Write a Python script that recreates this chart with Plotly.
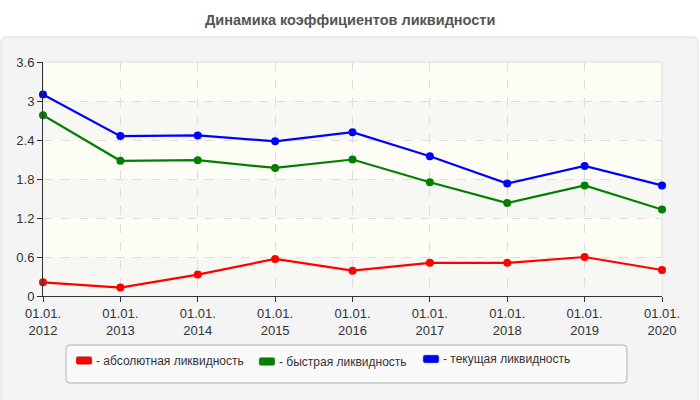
import plotly.graph_objects as go

# ---- data ----
dates = ["01.01.2012", "01.01.2013", "01.01.2014", "01.01.2015", "01.01.2016",
         "01.01.2017", "01.01.2018", "01.01.2019", "01.01.2020"]
absolute = [0.21, 0.13, 0.33, 0.57, 0.39, 0.51, 0.51, 0.60, 0.40]
quick = [2.78, 2.08, 2.09, 1.97, 2.10, 1.75, 1.43, 1.70, 1.33]
current = [3.10, 2.46, 2.47, 2.38, 2.52, 2.15, 1.73, 2.00, 1.70]
series_names = ["абсолютная ликвидность", "быстрая ликвидность", "текущая ликвидность"]
series_colors = ["#ff0000", "#008000", "#0000ff"]
y_ticks = [0, 0.6, 1.2, 1.8, 2.4, 3.0, 3.6]
title = "Динамика коэффициентов ликвидности"

W, H = 700, 400
L, R, T, B = 43, 38, 62, 104
PW, PH = W - L - R, H - T - B

def px(x):
    return (x - L) / PW

def py(y):
    return (H - B - y) / PH

tick_text = [d[:6] + "<br>" + d[6:] for d in dates]
xs = list(range(len(dates)))

fig = go.Figure()
for vals, name, col in zip([absolute, quick, current], series_names, series_colors):
    fig.add_trace(go.Scatter(x=xs, y=vals, mode="lines+markers", name=name,
                             line=dict(color=col, width=2.2),
                             marker=dict(color=col, size=8),
                             showlegend=False, cliponaxis=False))

shapes = []
# gray panel with rounded top corners
x0, x1, y0, y1 = px(1), px(698), py(37), py(402)
rx, ry = 6 / PW, 6 / PH
shapes.append(dict(type="path", xref="paper", yref="paper",
                   path=(f"M {x0},{y1} L {x0},{y0 - ry} Q {x0},{y0} {x0 + rx},{y0} "
                         f"L {x1 - rx},{y0} Q {x1},{y0} {x1},{y0 - ry} L {x1},{y1} Z"),
                   fillcolor="#f4f4f4", line=dict(color="#dcdcdc", width=1), layer="below"))
# plot area background
shapes.append(dict(type="rect", xref="paper", yref="paper", x0=0, x1=1, y0=0, y1=1,
                   fillcolor="#fdfdf6", line=dict(color="#dddddd", width=1), layer="below"))
# alternating bands
for i in range(len(y_ticks) - 1):
    if i % 2 == 0:
        shapes.append(dict(type="rect", xref="paper", yref="y", x0=0, x1=1,
                           y0=y_ticks[i], y1=y_ticks[i + 1],
                           fillcolor="#f7f7f3", line=dict(width=0), layer="below"))

# legend box
lx0, lx1, ly0, ly1 = px(66), px(627), py(345), py(383)
rx, ry = 4 / PW, 4 / PH
shapes.append(dict(type="path", xref="paper", yref="paper",
                   path=(f"M {lx0 + rx},{ly0} L {lx1 - rx},{ly0} Q {lx1},{ly0} {lx1},{ly0 - ry} "
                         f"L {lx1},{ly1 + ry} Q {lx1},{ly1} {lx1 - rx},{ly1} "
                         f"L {lx0 + rx},{ly1} Q {lx0},{ly1} {lx0},{ly1 + ry} "
                         f"L {lx0},{ly0 - ry} Q {lx0},{ly0} {lx0 + rx},{ly0} Z"),
                   fillcolor="#fafafa", line=dict(color="#b0b0b0", width=1)))

annotations = [dict(text=f"<b>{title}</b>", xref="paper", yref="paper",
                    x=px(350), y=py(20), xanchor="center", yanchor="middle", showarrow=False,
                    font=dict(family="Liberation Sans, Arial", size=14.5, color="#555555"))]

legend_pos = [(76, 360.5), (259, 361.5), (423, 359)]
for (lx, ly), name, col in zip(legend_pos, series_names, series_colors):
    shapes.append(dict(type="path", xref="paper", yref="paper",
                       path=(f"M {px(lx + 2)},{py(ly - 4)} L {px(lx + 14)},{py(ly - 4)} "
                             f"Q {px(lx + 16)},{py(ly - 4)} {px(lx + 16)},{py(ly - 2)} "
                             f"L {px(lx + 16)},{py(ly + 2)} Q {px(lx + 16)},{py(ly + 4)} {px(lx + 14)},{py(ly + 4)} "
                             f"L {px(lx + 2)},{py(ly + 4)} Q {px(lx)},{py(ly + 4)} {px(lx)},{py(ly + 2)} "
                             f"L {px(lx)},{py(ly - 2)} Q {px(lx)},{py(ly - 4)} {px(lx + 2)},{py(ly - 4)} Z"),
                       fillcolor=col, line=dict(color="#999999", width=0.5)))
    annotations.append(dict(text="- " + name, xref="paper", yref="paper",
                            x=px(lx + 18), y=py(ly), xanchor="left", yanchor="middle",
                            showarrow=False,
                            font=dict(family="Liberation Sans, Arial", size=12, color="#333333")))

fig.update_layout(
    width=W, height=H,
    margin=dict(l=L, r=R, t=T, b=B),
    paper_bgcolor="#ffffff", plot_bgcolor="rgba(0,0,0,0)",
    font=dict(family="Liberation Sans, Arial", size=13, color="#333333"),
    shapes=shapes, annotations=annotations, showlegend=False,
    xaxis=dict(range=[0, len(dates) - 1], tickmode="array", tickvals=xs, ticktext=tick_text,
               showgrid=True, gridcolor="#dddddd", griddash="dash", gridwidth=1,
               showline=True, linecolor="#333333", linewidth=1,
               ticks="outside", ticklen=5, tickcolor="#333333", zeroline=False,
               tickfont=dict(size=13), layer="above traces"),
    yaxis=dict(range=[0, 3.6], tickmode="array", tickvals=y_ticks,
               ticktext=[f"{v:g}" for v in y_ticks],
               showgrid=True, gridcolor="#dddddd", griddash="dash", gridwidth=1,
               showline=True, linecolor="#333333", linewidth=1,
               ticks="outside", ticklen=5, tickcolor="#333333", zeroline=False,
               tickfont=dict(size=13)),
)

fig.write_html("out.html")
